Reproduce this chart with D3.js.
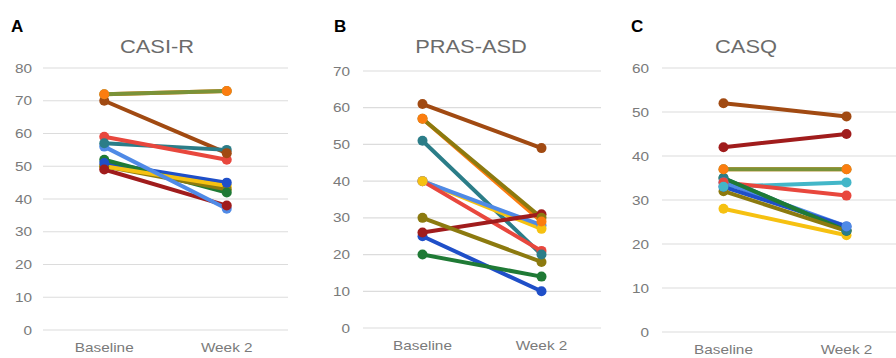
<!DOCTYPE html>
<html>
<head>
<meta charset="utf-8">
<script src="https://cdn.jsdelivr.net/npm/d3@7"></script>
<style>
  html, body { margin: 0; padding: 0; background: #fff; }
  svg { display: block; }
</style>
</head>
<body>
<svg id="chart" width="896" height="358"></svg>
<script>
// x categories
const timepoints = ["Baseline", "Week 2"]

// colour for each series key
const palette = {
  lightblue: "#4f8ae6",
  red: "#e8473d",
  yellow: "#f6c111",
  green: "#1f7a35",
  orange: "#fb7d10",
  teal: "#2b7d88",
  brown: "#a14a12",
  darkred: "#a01c1c",
  darkblue: "#1f4fc8",
  olive: "#8c7a0f",
  olivegreen: "#7a9238",
  cyan: "#43b6c8"
}

// A: CASI-R
const casiSeries = ["orange", "olivegreen", "brown", "teal", "red", "darkred", "darkblue", "green", "olive", "yellow", "lightblue"]
const casiBaseline = [72, 72, 70, 57, 59, 49, 51, 52, 50, 50, 56]
const casiWeek2 = [73, 73, 54, 55, 52, 38, 45, 42, 43, 44, 37]
const casiTicks = [0, 10, 20, 30, 40, 50, 60, 70, 80]

// B: PRAS-ASD
const prasSeries = ["brown", "orange", "olive", "teal", "yellow", "lightblue", "red", "darkred", "darkblue", "green"]
const prasBaseline = [61, 57, 57, 51, 40, 40, 40, 26, 25, 20]
const prasWeek2 = [49, 29, 30, 20, 27, 28, 21, 31, 10, 14]
const prasExtraSeries = ["olive"]
const prasExtraBaseline = [30]
const prasExtraWeek2 = [18]
const prasTicks = [0, 10, 20, 30, 40, 50, 60, 70]

// C: CASQ
const casqSeries = ["brown", "darkred", "orange", "olivegreen", "cyan", "red", "lightblue", "darkblue", "teal", "green", "olive", "yellow"]
const casqBaseline = [52, 42, 37, 37, 33, 34, 34, 33, 35, 35, 32, 28]
const casqWeek2 = [49, 45, 37, 37, 34, 31, 24, 24, 23, 23, 23, 22]
const casqTicks = [0, 10, 20, 30, 40, 50, 60]

const svg = d3.select("#chart")
const stretch = 1.18 // reference text is slightly wide

function stretchedText(g, x, y, str) {
  return g.append("text")
    .attr("transform", `translate(${x},${y}) scale(${stretch},1)`)
    .text(str)
}

function drawPanel(opts) {
  const g = svg.append("g")

  const x = d3.scalePoint()
    .domain(timepoints)
    .range([opts.left, opts.right])
    .padding(0.5)

  const y = d3.scaleLinear()
    .domain([0, d3.max(opts.ticks)])
    .range([opts.bottom, opts.top])

  // panel letter
  g.append("text")
    .attr("x", opts.letterX)
    .attr("y", 32)
    .attr("font-family", "Liberation Sans, Arial, sans-serif")
    .attr("font-weight", "bold")
    .attr("font-size", 17)
    .attr("fill", "#000")
    .text(opts.letter)

  // title
  stretchedText(g, opts.titleX, 53, opts.title)
    .attr("text-anchor", "middle")
    .attr("font-family", "Liberation Sans, Arial, sans-serif")
    .attr("font-size", 18.5)
    .attr("fill", "#6b6b6b")

  // grid + y labels
  const yAxis = g.append("g")
  opts.ticks.forEach(t => {
    yAxis.append("line")
      .attr("x1", opts.left)
      .attr("x2", Math.min(opts.right, 896))
      .attr("y1", y(t))
      .attr("y2", y(t))
      .attr("stroke", "#dcdcdc")
      .attr("stroke-width", 1.2)
    stretchedText(yAxis, opts.labelX, y(t) + 4.5, t)
      .attr("text-anchor", "end")
      .attr("font-family", "Liberation Sans, Arial, sans-serif")
      .attr("font-size", 13)
      .attr("fill", "#7a7a7a")
  })

  // x labels
  timepoints.forEach(tp => {
    stretchedText(g, x(tp), opts.bottom + 22, tp)
      .attr("text-anchor", "middle")
      .attr("font-family", "Liberation Sans, Arial, sans-serif")
      .attr("font-size", 13)
      .attr("fill", "#7a7a7a")
  })

  const rows = opts.series.map((key, i) => ({
    color: palette[key],
    values: [opts.baseline[i], opts.week2[i]]
  }))

  g.append("g")
    .selectAll("line")
    .data(rows)
    .join("line")
    .attr("x1", x(timepoints[0]))
    .attr("x2", x(timepoints[1]))
    .attr("y1", d => y(d.values[0]))
    .attr("y2", d => y(d.values[1]))
    .attr("stroke", d => d.color)
    .attr("stroke-width", 4)
    .attr("stroke-linecap", "round")

  // earlier series' markers end up on top
  const dots = []
  rows.slice().reverse().forEach(r => {
    r.values.forEach((v, j) => dots.push({ color: r.color, x: x(timepoints[j]), y: y(v) }))
  })
  g.append("g")
    .selectAll("circle")
    .data(dots)
    .join("circle")
    .attr("cx", d => d.x)
    .attr("cy", d => d.y)
    .attr("r", 5)
    .attr("fill", d => d.color)
}

drawPanel({
  letter: "A", letterX: 11, title: "CASI-R", titleX: 157,
  left: 43, right: 288, top: 68, bottom: 330, labelX: 32,
  ticks: casiTicks, series: casiSeries, baseline: casiBaseline, week2: casiWeek2
})

drawPanel({
  letter: "B", letterX: 334, title: "PRAS-ASD", titleX: 471,
  left: 363, right: 601, top: 71, bottom: 328, labelX: 350,
  ticks: prasTicks,
  series: prasSeries.concat(prasExtraSeries),
  baseline: prasBaseline.concat(prasExtraBaseline),
  week2: prasWeek2.concat(prasExtraWeek2)
})

drawPanel({
  letter: "C", letterX: 631, title: "CASQ", titleX: 746,
  left: 662, right: 908, top: 68, bottom: 332, labelX: 649,
  ticks: casqTicks, series: casqSeries, baseline: casqBaseline, week2: casqWeek2
})
</script>
</body>
</html>
